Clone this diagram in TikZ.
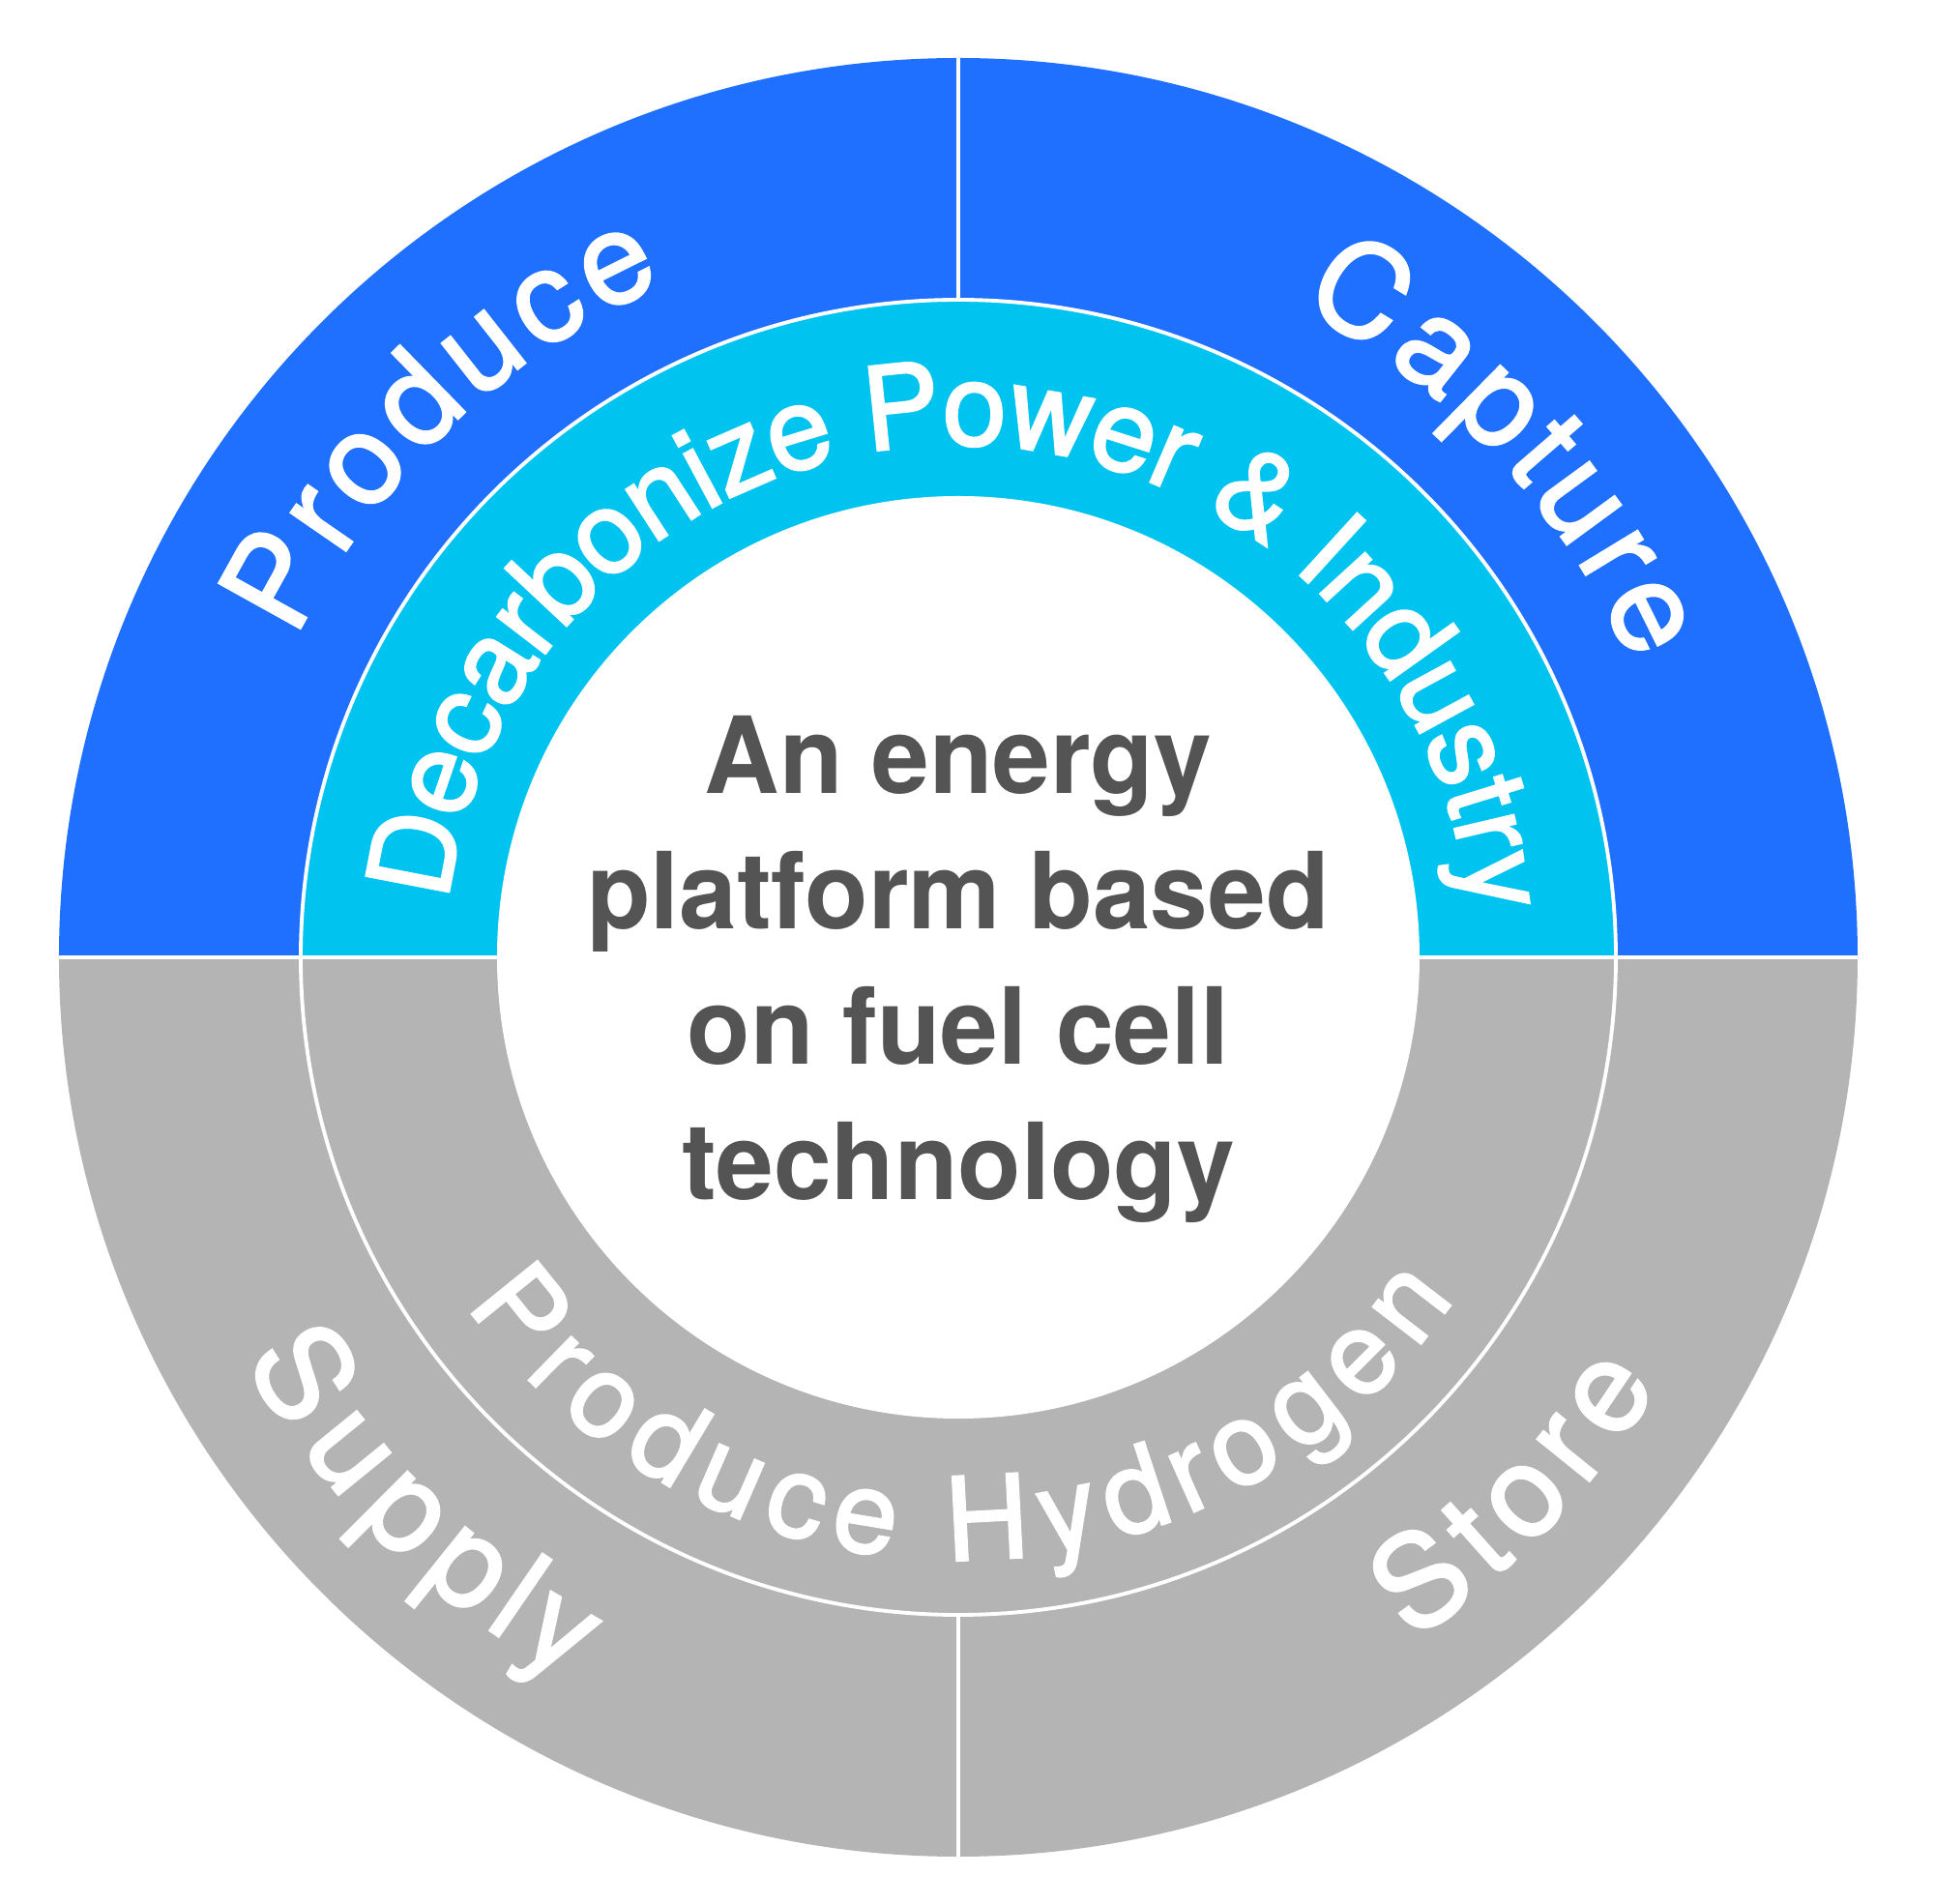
\documentclass[tikz,border=0pt]{standalone}
\usepackage{fontspec}
\usetikzlibrary{decorations.text}
\newfontfamily\heros{TeX Gyre Heros}[FakeStretch=0.975]
\newfontfamily\herosmed{TeX Gyre Heros}[FakeBold=2]
\definecolor{ringblue}{RGB}{31,112,255}
\definecolor{ringcyan}{RGB}{0,196,240}
\definecolor{ringgray}{RGB}{180,180,180}
\definecolor{textgray}{RGB}{84,84,84}
\def\outerfont{\herosmed\fontsize{37.5}{40}\selectfont\color{white}}
\def\midfont{\herosmed\fontsize{34}{36}\selectfont\color{white}}

\begin{document}
\begin{tikzpicture}[
  sep/.style={draw=white, line width=1.1pt},
  outerlabel/.style={decorate, decoration={text along path, text align=center,
                     text={|\outerfont|#1}}},
  midlabel/.style={decorate, decoration={text along path, text align=center,
                   text={|\midfont|#1}}},
  tagline/.style={font=\heros\bfseries\fontsize{31.3}{39.8}\selectfont,
                  text=textgray, align=center, inner sep=0pt}]

  \useasboundingbox (-9.91,-9.79) rectangle (10.09,9.90);

  % rings
  \fill[ringblue] (9.30,0) arc[start angle=0, end angle=180, radius=9.30] -- cycle;
  \fill[ringgray] (-9.30,0) arc[start angle=180, end angle=360, radius=9.30] -- cycle;
  \fill[ringcyan] (6.80,0) arc[start angle=0, end angle=180, radius=6.80] -- cycle;
  \fill[white] (0,0) circle[radius=4.77];

  % separators
  \draw[sep] (0,0) circle[radius=6.80];
  \draw[sep] (-9.30,0) -- (9.30,0);
  \draw[sep] (0,6.80) -- (0,9.30);
  \draw[sep] (0,-6.80) -- (0,-9.30);

  % outer ring
  \path[outerlabel=Produce, decoration={raise=0.82cm}]
    (179:6.78) arc[start angle=179, end angle=89, radius=6.78];
  \path[outerlabel=Capture, decoration={raise=0.82cm}]
    (88:6.78) arc[start angle=88, end angle=-2, radius=6.78];
  \path[outerlabel=Supply, decoration={raise=-1.59cm}]
    (180.5:6.89) arc[start angle=180.5, end angle=270.5, radius=6.89];
  \path[outerlabel=Store, decoration={raise=-1.59cm}]
    (271:6.89) arc[start angle=271, end angle=361, radius=6.89];

  % middle ring
  \path[midlabel={Decarbonize Power {\&} Industry}, decoration={raise=-0.18cm}]
    (189.3:5.48) arc[start angle=189.3, end angle=-10.7, radius=5.48];
  \path[midlabel={Produce Hydrogen}, decoration={raise=-1.12cm}]
    (200.3:5.11) arc[start angle=200.3, end angle=340.3, radius=5.11];

  % centre
  \node[tagline] (tagline) at (0,-0.125)
    {An energy\\ platform based\\ on fuel cell\\ technology};
\end{tikzpicture}
\end{document}
